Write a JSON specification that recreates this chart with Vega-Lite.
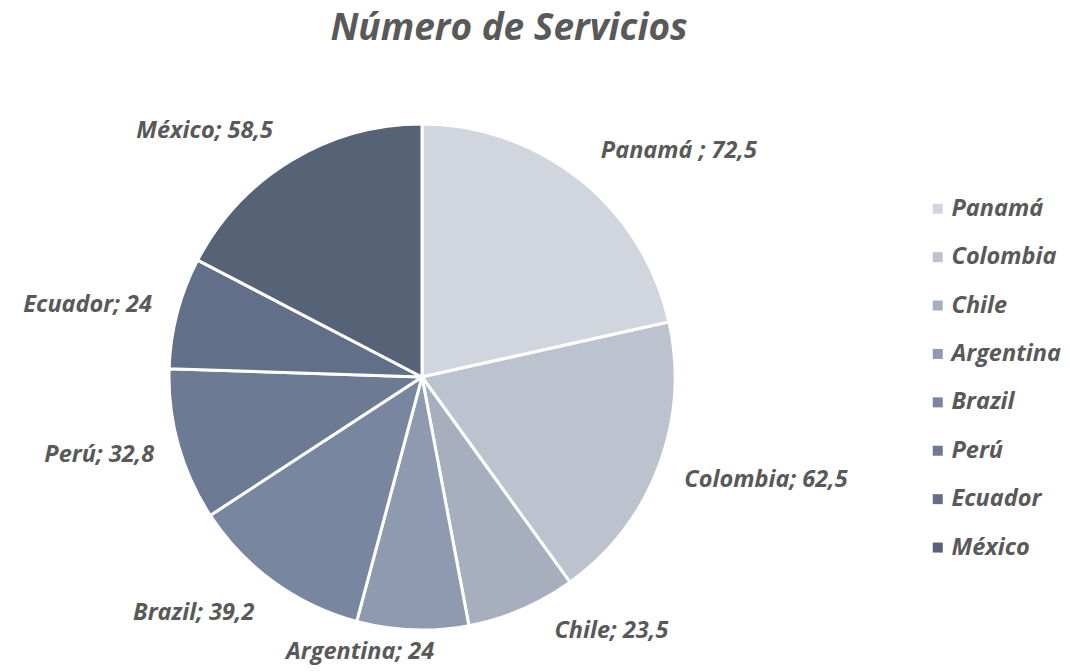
{
  "$schema": "https://vega.github.io/schema/vega-lite/v6.json",
  "width": 844,
  "height": 590,
  "autosize": {"type": "none"},
  "padding": {"left": 0, "top": 82, "right": 226, "bottom": 0},
  "title": {
    "text": "Número de Servicios",
    "font": "Open Sans",
    "fontSize": 37,
    "fontStyle": "italic",
    "fontWeight": "bold",
    "color": "#595959",
    "anchor": "middle",
    "frame": "group",
    "dx": 87,
    "dy": 38,
    "offset": 36
  },
  "data": {
    "values": [
      {"i": 1, "pais": "Panamá", "valor": 72.5, "etiqueta": "Panamá ; 72,5"},
      {"i": 2, "pais": "Colombia", "valor": 62.5, "etiqueta": "Colombia; 62,5"},
      {"i": 3, "pais": "Chile", "valor": 23.5, "etiqueta": "Chile; 23,5"},
      {"i": 4, "pais": "Argentina", "valor": 24, "etiqueta": "Argentina; 24"},
      {"i": 5, "pais": "Brazil", "valor": 39.2, "etiqueta": "Brazil; 39,2"},
      {"i": 6, "pais": "Perú", "valor": 32.8, "etiqueta": "Perú; 32,8"},
      {"i": 7, "pais": "Ecuador", "valor": 24, "etiqueta": "Ecuador; 24"},
      {"i": 8, "pais": "México", "valor": 58.5, "etiqueta": "México; 58,5"}
    ]
  },
  "encoding": {
    "theta": {"field": "valor", "type": "quantitative", "stack": true},
    "order": {"field": "i", "type": "quantitative", "sort": "ascending"}
  },
  "layer": [
    {
      "mark": {"type": "arc", "radius": 253, "stroke": "#ffffff", "strokeWidth": 3},
      "encoding": {
        "color": {
          "field": "pais",
          "type": "nominal",
          "sort": ["Panamá", "Colombia", "Chile", "Argentina", "Brazil", "Perú", "Ecuador", "México"],
          "scale": {
            "domain": ["Panamá", "Colombia", "Chile", "Argentina", "Brazil", "Perú", "Ecuador", "México"],
            "range": ["#d0d5de", "#bcc2ce", "#a7afbf", "#8e9ab0", "#7886a0", "#6c7a93", "#626f88", "#566276"]
          },
          "legend": {
            "orient": "none",
            "legendX": 926,
            "legendY": 115,
            "title": null,
            "symbolType": "square",
            "symbolSize": 100,
            "symbolStrokeWidth": 0,
            "labelFont": "Open Sans",
            "labelFontSize": 23.5,
            "labelFontStyle": "italic",
            "labelFontWeight": "bold",
            "labelColor": "#595959",
            "labelOffset": 2,
            "rowPadding": 23.4
          }
        }
      }
    },
    {
      "mark": {"type": "text", "radius": 342, "thetaOffset": 0.174},
      "encoding": {
        "detail": {"field": "pais", "type": "nominal"},
        "text": {"condition": {"test": "datum.pais === 'Panamá'", "field": "etiqueta", "type": "nominal"}, "value": ""}
      }
    },
    {
      "mark": {"type": "text", "radius": 359, "thetaOffset": -0.074},
      "encoding": {
        "detail": {"field": "pais", "type": "nominal"},
        "text": {"condition": {"test": "datum.pais === 'Colombia'", "field": "etiqueta", "type": "nominal"}, "value": ""}
      }
    },
    {
      "mark": {"type": "text", "radius": 317, "thetaOffset": -0.235},
      "encoding": {
        "detail": {"field": "pais", "type": "nominal"},
        "text": {"condition": {"test": "datum.pais === 'Chile'", "field": "etiqueta", "type": "nominal"}, "value": ""}
      }
    },
    {
      "mark": {"type": "text", "radius": 282, "thetaOffset": 0.184},
      "encoding": {
        "detail": {"field": "pais", "type": "nominal"},
        "text": {"condition": {"test": "datum.pais === 'Argentina'", "field": "etiqueta", "type": "nominal"}, "value": ""}
      }
    },
    {
      "mark": {"type": "text", "radius": 328, "thetaOffset": 0.143},
      "encoding": {
        "detail": {"field": "pais", "type": "nominal"},
        "text": {"condition": {"test": "datum.pais === 'Brazil'", "field": "etiqueta", "type": "nominal"}, "value": ""}
      }
    },
    {
      "mark": {"type": "text", "radius": 332, "thetaOffset": 0.036},
      "encoding": {
        "detail": {"field": "pais", "type": "nominal"},
        "text": {"condition": {"test": "datum.pais === 'Perú'", "field": "etiqueta", "type": "nominal"}, "value": ""}
      }
    },
    {
      "mark": {"type": "text", "radius": 342, "thetaOffset": -0.045},
      "encoding": {
        "detail": {"field": "pais", "type": "nominal"},
        "text": {"condition": {"test": "datum.pais === 'Ecuador'", "field": "etiqueta", "type": "nominal"}, "value": ""}
      }
    },
    {
      "mark": {"type": "text", "radius": 328, "thetaOffset": -0.179},
      "encoding": {
        "detail": {"field": "pais", "type": "nominal"},
        "text": {"condition": {"test": "datum.pais === 'México'", "field": "etiqueta", "type": "nominal"}, "value": ""}
      }
    }
  ],
  "config": {
    "view": {"stroke": null},
    "text": {
      "font": "Open Sans",
      "fontSize": 23.5,
      "fontStyle": "italic",
      "fontWeight": "bold",
      "color": "#595959",
      "align": "center",
      "baseline": "middle"
    }
  }
}
